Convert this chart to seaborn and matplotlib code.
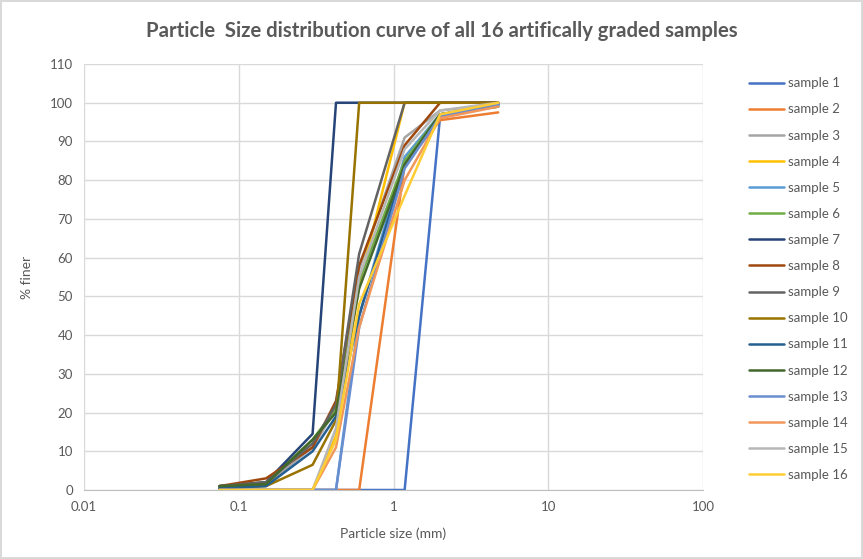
import matplotlib
matplotlib.use("Agg")
import matplotlib.pyplot as plt
import seaborn as sns
import pandas as pd

# sieve sizes (mm)
sizes = [0.075, 0.15, 0.3, 0.425, 0.6, 1.18, 2, 4.75]

# % finer for every sample
s1 = [0, 0, 0, 0, 0, 0, 96.5, 99.5]
s2 = [0, 0, 0, 0, 0, 84, 95.5, 97.5]
s3 = [0.5, 1.5, 11, 21, 57, 91, 98, 99.5]
s4 = [0, 0, 0, 14, 53, 100, 100, 100]
s5 = [0, 0, 0, 0, 45, 86, 97, 99.5]
s6 = [1, 2, 13, 21, 54, 85, 97, 99]
s7 = [1, 2, 14.5, 100, 100, 100, 100, 100]
s8 = [1, 3, 11, 23, 58, 89, 100, 100]
s9 = [1, 2, 12, 22, 61, 100, 100, 100]
s10 = [0.5, 1, 6.5, 18, 100, 100, 100, 100]
s11 = [0.5, 1, 10, 19, 45, 84, 97, 99.5]
s12 = [1, 1.5, 13, 20, 52, 84, 97, 99]
s13 = [0, 0, 0, 0, 42, 83, 96.5, 99.5]
s14 = [0, 0, 0, 11, 42, 80, 96, 99]
s15 = [0, 0, 0, 16, 55, 88, 98, 100]
s16 = [0, 0, 0, 13, 48, 76, 97, 100]

samples = [s1, s2, s3, s4, s5, s6, s7, s8, s9, s10, s11, s12, s13, s14, s15, s16]
names = ["sample %d" % (i + 1) for i in range(len(samples))]
colors = ["#4472C4", "#ED7D31", "#A5A5A5", "#FFC000", "#5B9BD5", "#70AD47",
          "#264478", "#9E480E", "#636363", "#997300", "#255E91", "#43682B",
          "#698ED0", "#F1975A", "#B7B7B7", "#FFCD33"]

rows = []
for name, vals in zip(names, samples):
    for sz, v in zip(sizes, vals):
        rows.append({"sample": name, "size": sz, "finer": v})
df = pd.DataFrame(rows)

sns.set_style("white")
plt.rcParams["font.family"] = ["Lato", "DejaVu Sans"]
txt = "#595959"

fig = plt.figure(figsize=(8.63, 5.59), dpi=100)
fig.patch.set_edgecolor("#D9D9D9")
fig.patch.set_linewidth(1.5)
ax = fig.add_axes([84 / 863, 1 - 490 / 559, (703 - 84) / 863, (490 - 64) / 559])

sns.lineplot(data=df, x="size", y="finer", hue="sample", palette=colors,
             hue_order=names, estimator=None, sort=False, linewidth=1.8, ax=ax)

ax.set_xscale("log")
ax.set_xlim(0.01, 100)
ax.set_ylim(0, 110)
ax.set_xticks([0.01, 0.1, 1, 10, 100])
ax.set_xticklabels(["0.01", "0.1", "1", "10", "100"])
ax.minorticks_off()
ax.set_yticks(range(0, 111, 10))
ax.grid(True, color="#D9D9D9", linewidth=1)
for side in ["left", "right", "top"]:
    ax.spines[side].set_visible(False)
ax.spines["bottom"].set_color("#BFBFBF")
ax.tick_params(axis="both", length=0, labelsize=9.5, colors=txt, pad=8)
ax.set_xlabel("Particle size (mm)", fontsize=10, color=txt, labelpad=10)
ax.set_ylabel("% finer", fontsize=10, color=txt, labelpad=12)

fig.suptitle("Particle  Size distribution curve of all 16 artifically graded samples",
             x=442 / 863, y=1 - 31 / 559, va="center", fontsize=14.6,
             fontweight="bold", color=txt)

handles, labels = ax.get_legend_handles_labels()
ax.legend(handles, labels, loc="upper left", bbox_to_anchor=(744 / 863, 1 - 72 / 559),
          bbox_transform=fig.transFigure, frameon=False, fontsize=9.5,
          labelcolor=txt, handlelength=2.6, handletextpad=0.3,
          labelspacing=1.07, borderaxespad=0)

fig.savefig("out.png", dpi=100)
